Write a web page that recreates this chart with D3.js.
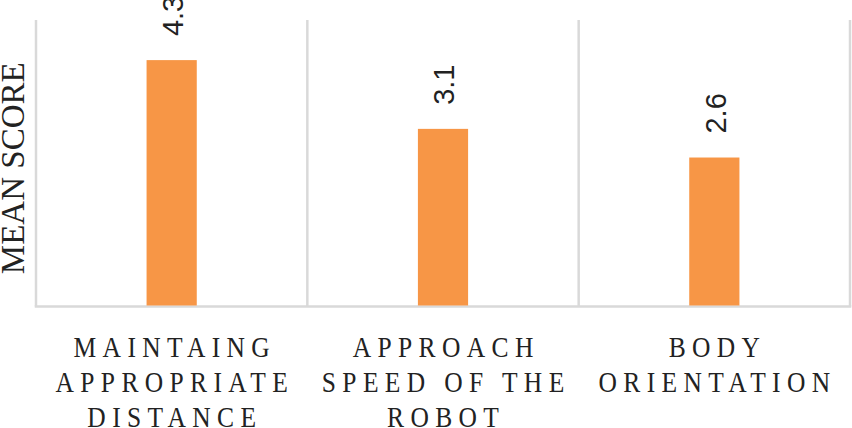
<!DOCTYPE html>
<html>
<head>
<meta charset="utf-8">
<script src="https://cdn.jsdelivr.net/npm/d3@7"></script>
<style>
  html, body { margin: 0; padding: 0; background: #fff; }
  svg { display: block; }
</style>
</head>
<body>
<svg id="chart" width="852" height="428"></svg>
<script>
const categories = [
  ["MAINTAING", "APPROPRIATE", "DISTANCE"],
  ["APPROACH", "SPEED OF THE", "ROBOT"],
  ["BODY", "ORIENTATION"]
];
const values = [4.3, 3.1, 2.6];
const yAxisTitle = "MEAN SCORE";
const yDomain = [0, 5];

const svg = d3.select("#chart");
const W = 852, H = 428;
const m = { left: 36, right: 2, top: 20, bottom: 121 };
const plotBottom = H - m.bottom - 0.5;

const x = d3.scaleBand().domain(d3.range(values.length)).range([m.left, W - m.right]).padding(0);
const y = d3.scaleLinear().domain(yDomain).range([plotBottom, m.top]);

const gridColor = "#d9d9d9";
const barColor = "#f79646";
const textColor = "#222222";

// Separators / frame (category boundaries)
const bounds = d3.range(values.length + 1).map(i => i < values.length ? x(i) : x(values.length - 1) + x.bandwidth());
svg.append("g").selectAll("line").data(bounds).join("line")
  .attr("x1", d => d).attr("x2", d => d)
  .attr("y1", y(yDomain[1])).attr("y2", y(0))
  .attr("stroke", gridColor).attr("stroke-width", 2.5);
svg.append("line")
  .attr("x1", bounds[0] - 1.25).attr("x2", bounds[bounds.length - 1] + 1.25)
  .attr("y1", y(0)).attr("y2", y(0))
  .attr("stroke", gridColor).attr("stroke-width", 2.5);

// Bars
const barW = x.bandwidth() * 0.185;
svg.append("g").selectAll("rect").data(values).join("rect")
  .attr("x", (d, i) => x(i) + x.bandwidth() / 2 - barW / 2)
  .attr("width", barW)
  .attr("y", d => y(d))
  .attr("height", d => y(0) - y(d) - 1)
  .attr("fill", barColor);

// Value labels (rotated)
svg.append("g").selectAll("text").data(values).join("text")
  .attr("transform", (d, i) => `translate(${x(i) + x.bandwidth() / 2 + 1},${y(d) - 24}) rotate(-90)`)
  .attr("dy", "0.36em")
  .attr("text-anchor", "start")
  .style("font-family", "'Liberation Sans', Arial, sans-serif")
  .style("font-size", "29px")
  .attr("fill", textColor)
  .text(d => d.toFixed(1));

// Y axis title
svg.append("text")
  .attr("transform", `translate(24,${(m.top + plotBottom) / 2 + 5}) rotate(-90)`)
  .attr("text-anchor", "middle")
  .style("font-family", "'Liberation Serif', 'Times New Roman', serif")
  .style("font-size", "33px")
  .attr("fill", textColor)
  .text(yAxisTitle);

// Category labels
const ls = 7.5, sx = 0.85;
const catG = svg.append("g");
categories.forEach((lines, i) => {
  const cx = x(i) + x.bandwidth() / 2;
  lines.forEach((line, j) => {
    catG.append("text")
      .attr("transform", `translate(${cx + ls * sx / 2},${plotBottom + 50 + j * 35}) scale(${sx},1)`)
      .attr("text-anchor", "middle")
      .style("font-family", "'Liberation Serif', 'Times New Roman', serif")
      .style("font-size", "30px")
      .style("letter-spacing", ls + "px")
      .attr("fill", textColor)
      .text(line);
  });
});
</script>
</body>
</html>
